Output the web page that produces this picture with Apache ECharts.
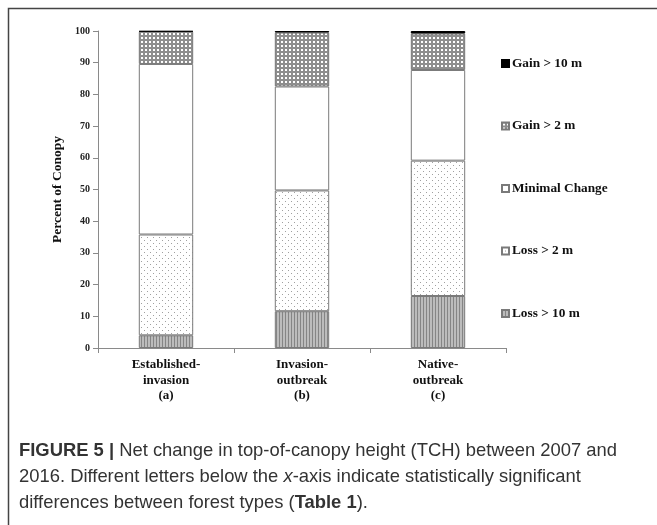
<!DOCTYPE html>
<html><head><meta charset="utf-8">
<script src="https://cdn.jsdelivr.net/npm/echarts@6/dist/echarts.min.js"></script>
<style>html,body{margin:0;padding:0;background:#fff}#c{width:657px;height:525px}</style>
</head><body><div id="c"></div>
<script>
var categories = ['Established-\ninvasion\n(a)', 'Invasion-\noutbreak\n(b)', 'Native-\noutbreak\n(c)'];
var seriesNames = ['Loss > 10 m', 'Loss > 2 m', 'Minimal Change', 'Gain > 2 m', 'Gain > 10 m'];
var lossGt10 = [4.0, 11.6, 16.4];
var lossGt2 = [31.8, 38.1, 42.7];
var minimalChange = [53.8, 32.8, 28.6];
var gainGt2 = [10.2, 17.0, 11.5];
var gainGt10 = [0.2, 0.5, 0.8];
var yTicks = [0, 10, 20, 30, 40, 50, 60, 70, 80, 90, 100];

function pat(w, h, draw) {
  var c = document.createElement('canvas');
  c.width = w; c.height = h;
  var g = c.getContext('2d');
  draw(g);
  return { image: c, repeat: 'repeat' };
}
var pLoss10 = pat(3, 3, function (g) {
  g.fillStyle = '#bcbcbc'; g.fillRect(0, 0, 3, 3);
  g.fillStyle = '#858585'; g.fillRect(0, 0, 1, 3);
});
var pLoss2 = pat(6, 6, function (g) {
  g.fillStyle = '#ffffff'; g.fillRect(0, 0, 6, 6);
  g.fillStyle = '#a0a0a0'; g.fillRect(0, 0, 1, 1); g.fillRect(3, 3, 1, 1);
});
var pGain2 = pat(4, 4, function (g) {
  g.fillStyle = '#8e8e8e'; g.fillRect(0, 0, 4, 4);
  g.fillStyle = '#ffffff'; g.fillRect(1, 1, 2, 2);
});
var fills = [pLoss10, pLoss2, '#ffffff', pGain2, '#000000'];
var values = [lossGt10, lossGt2, minimalChange, gainGt2, gainGt10];

var serif = '"Liberation Serif", "DejaVu Serif", serif';
var sans = '"Liberation Sans", Roboto, sans-serif';
var capSize = 18.4;

var series = seriesNames.map(function (n, i) {
  return {
    name: n, type: 'bar', stack: 'all', barWidth: '40%',
    data: values[i],
    itemStyle: { color: fills[i], borderColor: i === 4 ? '#000' : '#7a7a7a', borderWidth: 1 },
    emphasis: { disabled: true }
  };
});

var chart = echarts.init(document.getElementById('c'), null, { renderer: 'canvas' });
chart.setOption({
  animation: false,
  backgroundColor: '#fff',
  grid: { left: 98, right: 151, top: 31, bottom: 177, containLabel: false },
  legend: {
    orient: 'vertical', left: 496, top: 52, itemGap: 49.5,
    itemWidth: 7, itemHeight: 7, icon: 'rect',
    data: seriesNames.slice().reverse(),
    textStyle: { fontFamily: serif, fontWeight: 'bold', fontSize: 13.3, color: '#111', padding: [0, 0, 0, -2] },
    selectedMode: false
  },
  xAxis: {
    type: 'category', data: categories,
    axisLine: { lineStyle: { color: '#8a8a8a', width: 1 } },
    axisTick: { show: true, length: 5, alignWithLabel: false, lineStyle: { color: '#8a8a8a' } },
    axisLabel: { fontFamily: serif, fontWeight: 'bold', fontSize: 13, color: '#111', lineHeight: 15.5, margin: 9 }
  },
  yAxis: {
    type: 'value', min: 0, max: 100, interval: 10,
    name: 'Percent of Conopy', nameLocation: 'middle', nameGap: 26,
    nameTextStyle: { fontFamily: serif, fontWeight: 'bold', fontSize: 13.5, color: '#111' },
    axisLine: { show: true, lineStyle: { color: '#8a8a8a', width: 1 } },
    axisTick: { show: true, length: 5, lineStyle: { color: '#8a8a8a' } },
    splitLine: { show: false },
    axisLabel: { fontFamily: serif, fontWeight: 'bold', fontSize: 10, color: '#222', margin: 8,
      formatter: function (v) { return yTicks.indexOf(v) >= 0 ? String(v) : ''; } }
  },
  series: series,
  graphic: [
    { type: 'polyline', shape: { points: [[8.5, 525], [8.5, 8.5], [657, 8.5]] },
      style: { stroke: '#444', lineWidth: 1.5, fill: null }, silent: true },
    { type: 'text', left: 19, top: 442,
      style: { rich: { b: { fontFamily: sans, fontWeight: 'bold', fontSize: capSize, fill: '#333' },
                       n: { fontFamily: sans, fontSize: capSize, fill: '#333' } },
        text: '{b|FIGURE 5 | }{n|Net change in top-of-canopy height (TCH) between 2007 and}' } },
    { type: 'text', left: 19, top: 468,
      style: { rich: { i: { fontFamily: sans, fontStyle: 'italic', fontSize: capSize, fill: '#333' },
                       n: { fontFamily: sans, fontSize: capSize, fill: '#333' } },
        text: '{n|2016. Different letters below the }{i|x}{n|-axis indicate statistically significant}' } },
    { type: 'text', left: 19, top: 494,
      style: { rich: { b: { fontFamily: sans, fontWeight: 'bold', fontSize: capSize, fill: '#333' },
                       n: { fontFamily: sans, fontSize: capSize, fill: '#333' } },
        text: '{n|differences between forest types (}{b|Table 1}{n|).}' } }
  ]
});
</script></body></html>
